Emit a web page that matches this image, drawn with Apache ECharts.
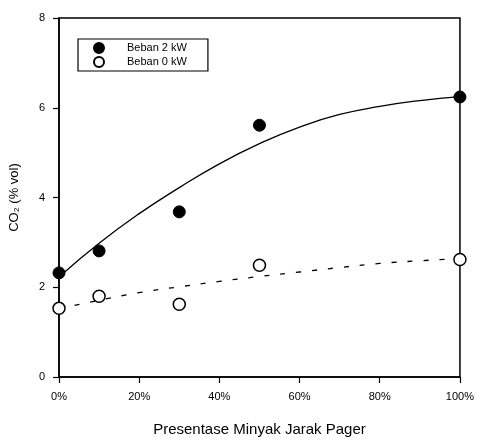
<!DOCTYPE html>
<html><head><meta charset="utf-8">
<script src="https://cdn.jsdelivr.net/npm/echarts@6/dist/echarts.min.js"></script>
<style>html,body{margin:0;padding:0;background:#fff}#c{width:477px;height:445px}</style>
</head><body><div id="c"></div>
<script>
// Data
const xTicks = [0, 20, 40, 60, 80, 100];
const yTicks = [0, 2, 4, 6, 8];
const pctX = [0, 10, 30, 50, 100];
const beban2kW = [2.32, 2.81, 3.68, 5.61, 6.24];
const beban0kW = [1.53, 1.80, 1.62, 2.49, 2.62];
const fitX = [0, 10, 20, 30, 40, 50, 60, 70, 80, 90, 100];
const fit2kW = [2.23, 2.98, 3.64, 4.22, 4.75, 5.20, 5.57, 5.85, 6.03, 6.16, 6.25];
const fit0kW = [1.52, 1.71, 1.88, 2.01, 2.13, 2.24, 2.34, 2.44, 2.53, 2.59, 2.64];

const pair = (xs, ys) => xs.map((x, i) => [x, ys[i]]);
const chart = echarts.init(document.getElementById('c'), null, {renderer: 'canvas'});
const font = 'Liberation Sans, Arial, sans-serif';
chart.setOption({
  animation: false,
  backgroundColor: '#fff',
  grid: {left: 59, right: 17, top: 18, bottom: 68, show: true, borderColor: '#000', borderWidth: 1.5, backgroundColor: 'transparent'},
  xAxis: {
    type: 'value', min: xTicks[0], max: xTicks[xTicks.length - 1], interval: 20,
    name: 'Presentase Minyak Jarak Pager', nameLocation: 'middle', nameGap: 45,
    nameTextStyle: {fontFamily: font, fontSize: 15, color: '#000'},
    axisLine: {show: true, lineStyle: {color: '#000', width: 1.5}},
    axisTick: {show: true, length: 6, lineStyle: {color: '#000', width: 1.2}},
    axisLabel: {formatter: '{value}%', fontFamily: font, fontSize: 11, color: '#000', margin: 14},
    splitLine: {show: false}
  },
  yAxis: {
    type: 'value', min: yTicks[0], max: yTicks[yTicks.length - 1], interval: 2,
    name: 'CO₂ (% vol)', nameLocation: 'middle', nameGap: 38,
    nameTextStyle: {fontFamily: font, fontSize: 13, color: '#000'},
    axisLine: {show: true, lineStyle: {color: '#000', width: 1.5}},
    axisTick: {show: true, length: 6, lineStyle: {color: '#000', width: 1.2}},
    axisLabel: {fontFamily: font, fontSize: 11, color: '#000', margin: 14},
    splitLine: {show: false}
  },
  legend: {
    orient: 'vertical', left: 78, top: 39,
    data: ['Beban 2 kW', 'Beban 0 kW'],
    borderColor: '#000', borderWidth: 1.2, borderRadius: 0,
    padding: [3, 21, 3, 15], itemGap: 2, itemWidth: 10, itemHeight: 10,
    textStyle: {fontFamily: font, fontSize: 11, color: '#000', padding: [0, 0, 0, 18]}
  },
  series: [
    {name: 'fit2', type: 'line', data: pair(fitX, fit2kW), smooth: true, showSymbol: false, symbol: 'none',
     lineStyle: {color: '#000', width: 1.3}, z: 2},
    {name: 'fit0', type: 'line', data: pair(fitX, fit0kW), smooth: true, showSymbol: false, symbol: 'none',
     lineStyle: {color: '#000', width: 1.3, type: [5, 11]}, z: 2},
    {name: 'Beban 2 kW', type: 'scatter', data: pair(pctX, beban2kW), symbol: 'circle', symbolSize: 12, clip: false,
     itemStyle: {color: '#000', borderColor: '#000', borderWidth: 1, opacity: 1}, z: 5},
    {name: 'Beban 0 kW', type: 'scatter', data: pair(pctX, beban0kW), symbol: 'circle', symbolSize: 12, clip: false,
     itemStyle: {color: '#fff', borderColor: '#000', borderWidth: 1.5, opacity: 1}, z: 5}
  ]
});
</script></body></html>
